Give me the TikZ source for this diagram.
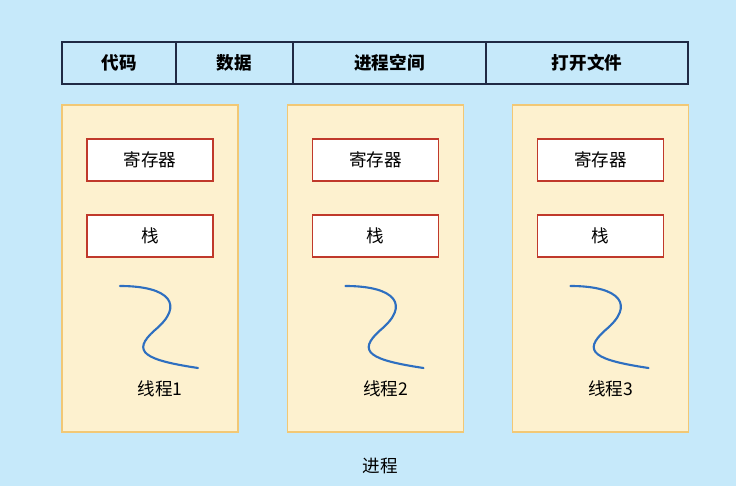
\documentclass[tikz,border=0pt]{standalone}
\usepackage{fontspec}
\setmainfont{Noto Sans CJK SC}
\usetikzlibrary{positioning}
\definecolor{bgblue}{HTML}{C6E9FA}
\definecolor{barline}{HTML}{1F2A44}
\definecolor{colfill}{HTML}{FDF1CF}
\definecolor{colline}{HTML}{F2C875}
\definecolor{boxline}{HTML}{C0392B}
\definecolor{wire}{HTML}{2E6FC0}
\tikzset{
  cell/.style={draw=barline,line width=1pt,minimum height=0.84cm,font=\bfseries\normalsize,inner sep=0pt},
  column/.style={draw=colline,fill=colfill,line width=0.8pt,minimum width=3.52cm,minimum height=6.54cm,inner sep=0pt},
  regbox/.style={draw=boxline,fill=white,line width=0.8pt,minimum width=2.52cm,minimum height=0.84cm,font=\normalsize,inner sep=0pt},
  thread/.style={draw=wire,line width=1.2pt,line cap=round}
}
\begin{document}
\begin{tikzpicture}[x=0.02cm,y=-0.02cm]
\fill[bgblue] (0,0) rectangle (736,486);
\useasboundingbox (0,0) rectangle (736,486);
% top bar
\node[cell,minimum width=2.28cm] (code) at (119,63) {代码};
\node[cell,minimum width=2.34cm] (data) at (234.5,63) {数据};
\node[cell,minimum width=3.86cm] (space) at (389.5,63) {进程空间};
\node[cell,minimum width=4.04cm] (files) at (587,63) {打开文件};
% threads
\foreach \i/\x in {1/150,2/375.5,3/600.5}{
  \node[column] (col\i) at (\x,268.5) {};
  \node[regbox] (reg\i) at (\x,160) {寄存器};
  \node[regbox] (stk\i) at (\x,236) {栈};
  \coordinate (s\i) at (\x-30,286);
  \coordinate (e\i) at (\x+48,368);
  \draw[thread] (s\i) .. controls (\x+20,286) and (\x+35,305) .. (\x+5,330)
    .. controls (\x-20,352) and (\x-5,360) .. (e\i);
  \node[font=\normalsize] (name\i) at (\x+10,389) {线程\i};
}
\node[font=\normalsize] (proc) at (380,466) {进程};
\end{tikzpicture}
\end{document}
